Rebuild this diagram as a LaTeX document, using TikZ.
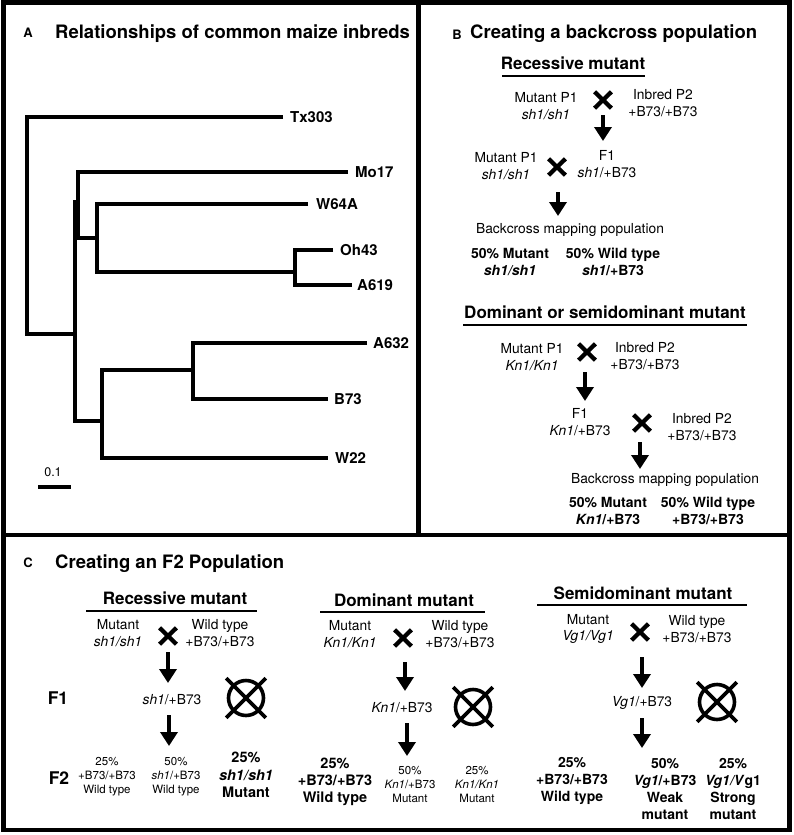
\documentclass[tikz,border=0pt]{standalone}
\usepackage{fontspec}
\setmainfont{TeX Gyre Heros}
\usetikzlibrary{arrows.meta,shapes.misc}
\newcommand\fsz[2]{\fontsize{#1}{#2}\selectfont}
\begin{document}
\begin{tikzpicture}[x=1pt,y=-1pt,
  frame/.style={line width=4.5pt},
  branch/.style={line width=4.6pt,line join=miter},
  leaf/.style={anchor=west,font=\bfseries\fsz{15}{18},inner sep=0pt},
  ptitle/.style={anchor=base west,font=\bfseries\fsz{18.5}{20},inner sep=0pt},
  plabel/.style={font=\bfseries\fsz{13}{14},inner sep=0pt},
  sub/.style={font=\bfseries\fsz{17}{19},inner sep=0pt},
  uline/.style={line width=2.6pt},
  txt/.style={font=\fsz{13.8}{16.5},align=center,inner sep=0pt},
  btxt/.style={font=\bfseries\fsz{14}{17},align=center,inner sep=0pt},
  stxt/.style={font=\fsz{11.5}{14},align=center,inner sep=0pt},
  gen/.style={font=\bfseries\fsz{17.5}{19},inner sep=0pt},
  crossmark/.style={cross out,draw,line width=4.3pt,minimum width=12.5pt,minimum height=12pt,inner sep=0pt},
  selfring/.style={circle,draw,line width=3.6pt,minimum size=35pt,inner sep=0pt},
  selfx/.style={cross out,draw,line width=3.6pt,minimum size=36pt,inner sep=0pt},
  bigarrow/.style={line width=4pt,-{Triangle[width=17pt,length=14pt]}}
]
\useasboundingbox (0,0) rectangle (793,835);
\fill[white] (0,0) rectangle (793,835);
% frames
\draw[frame] (3.5,2.5) rectangle (789.5,830);
\draw[frame] (3.5,535) -- (789.5,535);
\draw[frame] (418.5,2.5) -- (418.5,535);

% ---------- Panel A ----------
\node[plabel] (la) at (28,33) {A};
\node[ptitle] (ta) at (55,38) {Relationships of common maize inbreds};
\draw[branch] (283,117) -- (27,117) -- (27,334) -- (75,334);
\draw[branch] (348,172) -- (78,172) -- (78,238) -- (97,238);
\draw[branch] (308,204) -- (97,204) -- (97,272) -- (295,272);
\draw[branch] (333,250) -- (295,250) -- (295,285) -- (352,285);
\draw[branch] (75,200) -- (75,421) -- (102,421);
\draw[branch] (367,343) -- (193,343) -- (193,399) -- (328,399);
\draw[branch] (193,370) -- (102,370) -- (102,458) -- (328,458);
\node[leaf] (tx) at (290,117) {Tx303};
\node[leaf] (mo) at (355,172) {Mo17};
\node[leaf] (w64) at (316,204) {W64A};
\node[leaf] (oh) at (340,250) {Oh43};
\node[leaf] (a619) at (357,285) {A619};
\node[leaf] (a632) at (373,343) {A632};
\node[leaf] (b73) at (334,399) {B73};
\node[leaf] (w22) at (335,458) {W22};
\draw[line width=4.5pt] (38,487) -- (71,487);
\node[font=\fsz{12.5}{14},inner sep=0pt] (sc) at (53,472) {0.1};

% ---------- Panel B ----------
\node[plabel] (lb) at (457,35) {B};
\node[ptitle] (tb) at (470,38) {Creating a backcross population};
\node[sub] (rb) at (573,63) {Recessive mutant};
\draw[uline] (502,76) -- (645,76);
\node[txt] (bm1) at (546,106) {Mutant P1\\\textit{sh1/sh1}};
\node[crossmark] (bx1) at (603,100) {};
\node[txt] (bi1) at (663,103) {Inbred P2\\+B73/+B73};
\coordinate (ba1s) at (603,115); \coordinate (ba1e) at (603,141);
\draw[bigarrow] (ba1s) -- (ba1e);
\node[txt] (bm2) at (506,166) {Mutant P1\\\textit{sh1/sh1}};
\node[crossmark] (bx2) at (557,167) {};
\node[txt] (bf1) at (607,164) {F1\\\textit{sh1}/+B73};
\coordinate (ba2s) at (558,192); \coordinate (ba2e) at (558,216);
\draw[bigarrow] (ba2s) -- (ba2e);
\node[txt] (bbp1) at (570,230) {Backcross mapping population};
\node[btxt] (br1) at (510,262) {50\% Mutant\\\textit{sh1/sh1}};
\node[btxt] (br2) at (613,262) {50\% Wild type\\\textit{sh1}/+B73};

\node[sub] (db) at (605,312) {Dominant or semidominant mutant};
\draw[uline] (463,325) -- (747,325);
\node[txt] (bm3) at (532,357) {Mutant P1\\\textit{Kn1/Kn1}};
\node[crossmark] (bx3) at (587,352) {};
\node[txt] (bi3) at (645,356) {Inbred P2\\+B73/+B73};
\coordinate (ba3s) at (585,372); \coordinate (ba3e) at (585,401);
\draw[bigarrow] (ba3s) -- (ba3e);
\node[txt] (bf2) at (580,422) {F1\\\textit{Kn1}/+B73};
\node[crossmark] (bx4) at (642,423) {};
\node[txt] (bi4) at (702,427) {Inbred P2\\+B73/+B73};
\coordinate (ba4s) at (640,442); \coordinate (ba4e) at (640,469);
\draw[bigarrow] (ba4s) -- (ba4e);
\node[txt] (bbp2) at (665,480) {Backcross mapping population};
\node[btxt] (br3) at (608,511) {50\% Mutant\\\textit{Kn1}/+B73};
\node[btxt] (br4) at (708,511) {50\% Wild type\\+B73/+B73};

% ---------- Panel C ----------
\node[plabel] (lc) at (28,563) {C};
\node[ptitle] (tc) at (55,568) {Creating an F2 Population};
\node[gen] (f1) at (58,698) {F1};
\node[gen] (f2) at (59,778) {F2};

% recessive
\node[sub] (rc) at (175,598) {Recessive mutant};
\draw[uline] (86,611) -- (257,611);
\node[txt] (cm1) at (118,633) {Mutant\\\textit{sh1/sh1}};
\node[crossmark] (cx1) at (168,636) {};
\node[txt] (cw1) at (220,633) {Wild type\\+B73/+B73};
\coordinate (ca1s) at (168,652); \coordinate (ca1e) at (168,683);
\draw[bigarrow] (ca1s) -- (ca1e);
\node[txt] (cf1) at (172,700) {\textit{sh1}/+B73};
\node[selfring] (s1) at (246,698) {};
\node[selfx] (s1x) at (246,698) {};
\coordinate (ca2s) at (169,715); \coordinate (ca2e) at (169,746);
\draw[bigarrow] (ca2s) -- (ca2e);
\node[stxt] (r11) at (107,777) {25\%\\+B73/+B73\\Wild type};
\node[stxt] (r12) at (176,777) {50\%\\\textit{sh1}/+B73\\Wild type};
\node[btxt,font=\bfseries\fsz{14.5}{17.5}] (r13) at (246,775) {25\%\\\textit{sh1/sh1}\\Mutant};

% dominant
\node[sub] (dc) at (404,600) {Dominant mutant};
\draw[uline] (320,612) -- (485,612);
\node[txt] (cm2) at (350,634) {Mutant\\\textit{Kn1/Kn1}};
\node[crossmark] (cx2) at (403,638) {};
\node[txt] (cw2) at (460,634) {Wild type\\+B73/+B73};
\coordinate (ca3s) at (405,662); \coordinate (ca3e) at (405,691);
\draw[bigarrow] (ca3s) -- (ca3e);
\node[txt] (cf2) at (402,708) {\textit{Kn1}/+B73};
\node[selfring] (s2) at (473,707) {};
\node[selfx] (s2x) at (473,707) {};
\coordinate (ca4s) at (407,723); \coordinate (ca4e) at (407,756);
\draw[bigarrow] (ca4s) -- (ca4e);
\node[btxt,font=\bfseries\fsz{14.5}{17}] (r21) at (335,782) {25\%\\+B73/+B73\\Wild type};
\node[stxt] (r22) at (410,784) {50\%\\\textit{Kn1}/+B73\\Mutant};
\node[stxt] (r23) at (477,784) {25\%\\\textit{Kn1/Kn1}\\Mutant};

% semidominant
\node[sub] (sc2) at (643,593) {Semidominant mutant};
\draw[uline] (537,605) -- (747,605);
\node[txt] (cm3) at (588,629) {Mutant\\\textit{Vg1/Vg1}};
\node[crossmark] (cx3) at (640,632) {};
\node[txt] (cw3) at (697,629) {Wild type\\+B73/+B73};
\coordinate (ca5s) at (642,657); \coordinate (ca5e) at (642,688);
\draw[bigarrow] (ca5s) -- (ca5e);
\node[txt] (cf3) at (642,703) {\textit{Vg1}/+B73};
\node[selfring] (s3) at (717,702) {};
\node[selfx] (s3x) at (717,702) {};
\coordinate (ca6s) at (642,718); \coordinate (ca6e) at (642,748);
\draw[bigarrow] (ca6s) -- (ca6e);
\node[btxt] (r31) at (572,781) {25\%\\+B73/+B73\\Wild type};
\node[btxt] (r32) at (665,789) {50\%\\\textit{Vg1}/+B73\\Weak\\mutant};
\node[btxt] (r33) at (733,789) {25\%\\\textit{Vg1/V}g1\\Strong\\mutant};
\end{tikzpicture}
\end{document}
